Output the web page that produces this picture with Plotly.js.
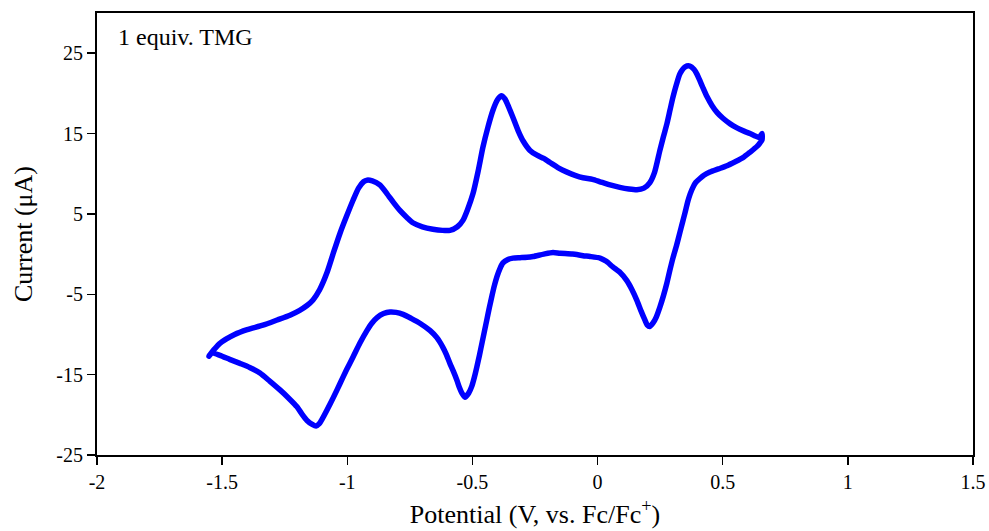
<!DOCTYPE html>
<html>
<head>
<meta charset="utf-8">
<script src="https://cdn.plot.ly/plotly-3.0.1.min.js"></script>
<style>
  html, body { margin: 0; padding: 0; background: #fff; }
  #chart { width: 989px; height: 531px; }
</style>
</head>
<body>
<div id="chart"></div>
<script>
// Cyclic voltammogram, 1 equiv. TMG: forward (anodic) sweep, then the reverse sweep back
const forwardPotential = [-1.553, -1.530, -1.509, -1.45, -1.40, -1.337, -1.28, -1.229, -1.190, -1.161, -1.137, -1.110, -1.081, -1.055, -1.029, -1.003, -0.977, -0.955, -0.935, -0.921, -0.900, -0.870, -0.841, -0.815, -0.789, -0.760, -0.738, -0.700, -0.658, -0.620, -0.590, -0.560, -0.538, -0.520, -0.498, -0.478, -0.458, -0.438, -0.418, -0.400, -0.385, -0.370, -0.355, -0.338, -0.318, -0.298, -0.270, -0.242, -0.215, -0.190, -0.155, -0.122, -0.090, -0.058, -0.020, 0.010, 0.050, 0.089, 0.125, 0.157, 0.185, 0.209, 0.228, 0.249, 0.263, 0.277, 0.290, 0.301, 0.315, 0.329, 0.350, 0.369, 0.385, 0.397, 0.410, 0.421, 0.437, 0.457, 0.478, 0.501, 0.530, 0.557, 0.585, 0.609, 0.630, 0.645, 0.657];
const forwardCurrent   = [-12.7, -11.8, -11.1, -10.0, -9.4, -8.85, -8.2, -7.6, -7.0, -6.4, -5.7, -4.4, -2.3, 0.2, 2.6, 4.7, 6.7, 8.2, 9.0, 9.2, 9.1, 8.6, 7.5, 6.4, 5.4, 4.5, 3.9, 3.4, 3.1, 2.95, 2.95, 3.4, 4.2, 5.5, 7.5, 10.2, 13.3, 15.8, 17.9, 19.2, 19.7, 19.3, 18.3, 17.0, 15.4, 14.1, 12.9, 12.3, 11.9, 11.4, 10.7, 10.2, 9.8, 9.5, 9.3, 9.0, 8.6, 8.3, 8.1, 8.0, 8.2, 8.9, 10.2, 12.9, 14.6, 16.2, 18.0, 19.5, 21.1, 22.45, 23.3, 23.4, 23.0, 22.4, 21.5, 20.7, 19.6, 18.5, 17.6, 16.9, 16.2, 15.7, 15.3, 15.0, 14.7, 14.5, 15.0];

const reversePotential = [0.657, 0.648, 0.637, 0.610, 0.581, 0.550, 0.517, 0.483, 0.449, 0.425, 0.409, 0.392, 0.381, 0.370, 0.361, 0.349, 0.339, 0.329, 0.315, 0.301, 0.289, 0.277, 0.263, 0.249, 0.235, 0.221, 0.209, 0.198, 0.189, 0.174, 0.157, 0.137, 0.117, 0.090, 0.061, 0.035, 0.010, -0.030, -0.058, -0.100, -0.150, -0.178, -0.215, -0.258, -0.282, -0.310, -0.338, -0.360, -0.378, -0.390, -0.402, -0.412, -0.422, -0.432, -0.442, -0.452, -0.462, -0.472, -0.482, -0.492, -0.502, -0.515, -0.530, -0.542, -0.552, -0.562, -0.576, -0.590, -0.604, -0.618, -0.642, -0.670, -0.710, -0.745, -0.777, -0.805, -0.829, -0.855, -0.881, -0.902, -0.921, -0.950, -0.977, -1.003, -1.029, -1.055, -1.081, -1.100, -1.112, -1.125, -1.140, -1.161, -1.181, -1.201, -1.235, -1.269, -1.310, -1.349, -1.390, -1.429, -1.470, -1.509, -1.541, -1.553];
const reverseCurrent   = [14.2, 13.8, 13.4, 12.7, 12.0, 11.5, 11.0, 10.6, 10.2, 9.8, 9.4, 8.9, 8.3, 7.5, 6.6, 5.1, 3.9, 2.7, 1.0, -0.5, -2.0, -3.6, -5.2, -6.6, -7.8, -8.6, -9.0, -8.8, -8.2, -7.1, -5.75, -4.4, -3.3, -2.3, -1.6, -0.9, -0.5, -0.3, -0.2, 0.0, 0.1, 0.2, 0.0, -0.3, -0.4, -0.45, -0.5, -0.7, -1.1, -1.8, -2.8, -3.9, -5.2, -6.6, -8.1, -9.6, -11.1, -12.6, -14.0, -15.3, -16.4, -17.3, -17.8, -17.3, -16.6, -15.7, -14.6, -13.6, -12.5, -11.6, -10.4, -9.5, -8.6, -8.0, -7.5, -7.25, -7.2, -7.4, -7.9, -8.6, -9.5, -11.1, -12.8, -14.4, -16.1, -17.8, -19.4, -20.5, -21.1, -21.4, -21.2, -20.7, -19.9, -19.0, -17.9, -16.9, -15.8, -14.8, -14.1, -13.6, -13.1, -12.6, -12.3, -12.7];

const xTickVals = [-2, -1.5, -1, -0.5, 0, 0.5, 1, 1.5];
const xTickText = ['-2', '-1.5', '-1', '-0.5', '0', '0.5', '1', '1.5'];
const yTickVals = [-25, -15, -5, 5, 15, 25];
const yTickText = ['-25', '-15', '-5', '5', '15', '25'];

const potential = forwardPotential.concat(reversePotential);
const current = forwardCurrent.concat(reverseCurrent);

const serif = '"Liberation Serif", "DejaVu Serif", serif';

const trace = {
  x: potential,
  y: current,
  mode: 'lines',
  type: 'scatter',
  line: { color: 'rgb(0,0,255)', width: 5.5, shape: 'spline', smoothing: 0.6 },
  hoverinfo: 'x+y'
};

const axisCommon = {
  ticks: 'outside',
  ticklen: 8,
  tickwidth: 1.5,
  tickcolor: '#000',
  showgrid: false,
  zeroline: false,
  showline: true,
  linecolor: '#000',
  linewidth: 2,
  mirror: true,
  tickfont: { family: serif, size: 20, color: '#000' }
};

const layout = {
  width: 989,
  height: 531,
  margin: { l: 97, r: 16, t: 13, b: 76 },
  paper_bgcolor: '#ffffff',
  plot_bgcolor: '#ffffff',
  showlegend: false,
  font: { family: serif, color: '#000000', size: 20 },
  xaxis: Object.assign({}, axisCommon, {
    range: [-2, 1.5],
    tickvals: xTickVals,
    ticktext: xTickText,
    title: { text: 'Potential (V, vs. Fc/Fc<sup>+</sup>)', font: { family: serif, size: 26, color: '#000' }, standoff: 13 }
  }),
  yaxis: Object.assign({}, axisCommon, {
    range: [-25, 30],
    tickvals: yTickVals,
    ticktext: yTickText,
    title: { text: 'Current (μA)', font: { family: serif, size: 26, color: '#000' }, standoff: 16 }
  }),
  annotations: [{
    text: '1 equiv. TMG',
    xref: 'paper', yref: 'paper',
    x: 0.022, y: 0.98,
    xanchor: 'left', yanchor: 'top',
    showarrow: false,
    font: { family: serif, size: 24, color: '#000' }
  }]
};

Plotly.newPlot('chart', [trace], layout, { displayModeBar: false, staticPlot: true });
</script>
</body>
</html>
